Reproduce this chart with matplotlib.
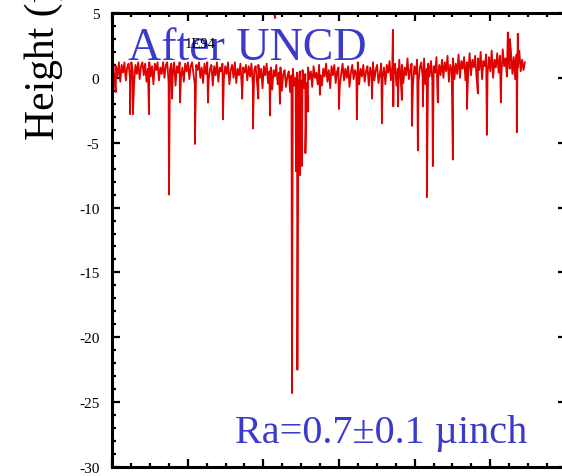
import numpy as np
import matplotlib
matplotlib.use("Agg")
import matplotlib.pyplot as plt
from matplotlib.ticker import MultipleLocator, NullFormatter

# ---- data ----
# baseline profile samples, evenly spaced over scan length 0 .. 5.456
base_values = [
    0.2, 1.1, -0.5, 0.9, 0.1, 1.2, -0.3, 1.0, 0.4, 1.2, -0.2, 0.8, 1.1, 0.0, 1.2, 0.5, -0.4, 1.0, 0.3, 1.2,
    -0.1, 0.9, 1.2, 0.2, 1.1, -0.3, 0.7, 1.2, 0.1, 0.9, -0.5, 1.1, 0.6, 1.2, -0.2, 0.8, 0.3, 1.2, 0.0, 1.0,
    1.2, -0.4, 0.7, 1.1, 0.2, 1.2, -0.6, 0.9, 0.4, 1.2, 0.1, 0.8, -0.3, 1.1, 0.5, 1.2, -0.1, 0.9, 1.2, 0.3,
    -0.5, 1.0, 0.6, 1.2, 0.0, 0.8, -0.4, 1.1, 0.3, 1.2, -0.2, 0.7, 1.0, -0.6, 0.9, 0.2, 1.2, -0.3, 0.8, 0.5,
    1.1, -0.1, 0.9, 0.3, 1.2, -0.5, 0.6, 1.0, 0.0, 1.2, -0.4, 0.7, 0.2, 1.1, -0.7, 0.8, 0.4, 1.0, -0.2, 0.9,
    0.1, 1.1, -0.6, 0.6, 0.9, -0.3, 1.0, 0.0, 0.7, -0.8, 0.9, 0.2, 1.1, -0.4, 0.5, 0.8, -0.9, 0.6, 0.1, 1.0,
    -0.5, 0.4, 0.8, -1.0, 0.3, 0.6, -0.7, 0.1, 0.5, -1.1, 0.2, 0.7, -0.6, 0.0, 0.4, -0.9, 0.5, -0.2, 0.6, -0.8,
    0.3, -0.4, 0.8, -0.1, 0.5, -0.7, 0.9, 0.0, 0.4, -0.5, 1.0, 0.2, -0.6, 0.7, 0.1, 1.1, -0.3, 0.6, -0.8, 0.9,
    0.2, 1.0, -0.4, 0.5, 0.8, -0.6, 0.3, 1.1, -0.2, 0.7, 0.0, 0.9, -0.7, 0.4, 1.0, -0.1, 0.6, 0.2, 1.2, -0.5,
    0.7, 0.1, 1.0, -0.3, 0.5, 0.9, -0.6, 0.8, 0.2, 1.2, -0.2, 0.6, 1.0, -0.4, 0.3, 1.1, 0.0, 0.8, -0.5, 1.0,
    0.4, 1.3, -0.2, 0.9, 0.3, 1.1, -0.6, 0.7, 1.4, 0.0, 1.0, -0.4, 0.8, 0.2, 1.5, -0.1, 0.6, 1.1, -0.5, 0.9,
    0.3, 1.4, -0.3, 0.8, 1.2, 0.0, 1.5, -0.5, 0.7, 1.1, 0.1, 1.3, -0.2, 0.9, 0.4, 1.6, -0.4, 1.0, 0.2, 1.4,
    0.0, 1.2, 0.5, 1.7, -0.3, 1.0, 0.6, 1.5, -0.1, 1.1, 0.3, 1.8, 0.0, 1.3, 0.7, 1.6, -0.2, 1.2, 0.4, 1.9,
    0.2, 1.4, 0.8, 1.7, 0.1, 1.5, 0.6, 2.0, -0.1, 1.3, 0.9, 1.8, 0.3, 1.6, 0.5, 2.1, 0.0, 1.4, 0.8, 1.9,
    0.4, 1.7, 0.2, 2.2, 0.9, 1.5, 0.1, 1.9, 0.7, 2.0, 0.3, 1.6, -0.1, 1.8, 0.8, 2.1, 0.5, 1.4, 0.6, 1.2,
]
scan_start = 0.0
scan_end = 5.456

# isolated spikes (position, height)
spike_x = [0.05, 0.238, 0.277, 0.489, 0.793, 0.753, 0.898, 1.096, 1.268, 1.466, 1.72, 1.863,
           1.934, 2.087, 2.219, 2.378, 2.431, 2.450, 2.483, 2.510, 2.556, 2.589,
           2.747, 2.999, 3.236, 3.435, 3.567, 3.712, 3.718, 3.778, 3.831, 3.963, 4.042,
           4.108, 4.161, 4.240, 4.306, 4.505, 4.690, 4.835, 4.954, 5.139, 5.231, 5.258,
           5.350, 5.363]
spike_y = [-1.1, -2.8, -2.8, -2.8, -1.6, -9.0, -1.9, -5.1, -1.9, -3.2, -1.6, -3.9,
           -1.6, -2.9, -2.0, -24.3, -7.2, -22.5, -7.5, -6.8, -5.8, -2.6,
           -1.3, -2.4, -3.2, -1.6, -3.5, 3.7, -2.2, -2.2, -1.7, -3.7, -5.6,
           -2.2, -9.2, -6.8, -1.9, -6.3, -2.4, -1.2, -4.4, -1.9, 3.5, 3.0,
           -4.2, 3.4]

# stray isolated reading near the top of the frame
stray_x = [2.150, 2.156]
stray_y = [4.85, 4.65]

y_ticks = [5, 0, -5, -10, -15, -20, -25, -30]

# ---- build series ----
bx = np.linspace(scan_start, scan_end, len(base_values))
x = np.concatenate([bx, np.array(spike_x)])
y = np.concatenate([np.array(base_values), np.array(spike_y)])
order = np.argsort(x, kind="stable")
x, y = x[order], y[order]

W, H = 562, 477
fig = plt.figure(figsize=(W / 100, H / 100), dpi=100)
plt.rcParams['font.family'] = ['Liberation Serif', 'DejaVu Serif']

left, right, top, bottom = 112, 566, 14, 468
ax = fig.add_axes([left / W, 1 - bottom / H, (right - left) / W, (bottom - top) / H])

ax.plot(x, y, color='#e00000', lw=1.3, zorder=2)
ax.plot(stray_x, stray_y, color='#e00000', lw=1.6, zorder=2)

ax.set_xlim(0, 6)
ax.set_ylim(-30, 5)
ax.xaxis.set_major_locator(MultipleLocator(1))
ax.xaxis.set_minor_locator(MultipleLocator(0.25))
ax.xaxis.set_major_formatter(NullFormatter())
ax.set_yticks(y_ticks)
ax.set_yticklabels([str(v) for v in y_ticks])
ax.yaxis.set_minor_locator(MultipleLocator(1))

for s in ax.spines.values():
    s.set_linewidth(2.2)
ax.tick_params(which='both', direction='in', top=True, right=True,
               width=1.6, labelsize=11, pad=9)
ax.tick_params(which='major', length=6)
ax.tick_params(which='minor', length=3)

fig.text(44 / W, 1 - 140 / H, "Height (µm)", rotation=90, rotation_mode='anchor',
         ha='left', va='center', fontsize=30)

fig.text(128 / W, 1 - 60 / H, "After UNCD", color='#3a3acc', fontsize=33,
         ha='left', va='baseline', zorder=5)
fig.text(185 / W, 1 - 48 / H, "1E94", color='black', fontsize=10.5,
         ha='left', va='baseline', zorder=6)
fig.text(527 / W, 1 - 443 / H, "Ra=0.7±0.1 µinch", color='#3a3acc', fontsize=29,
         ha='right', va='baseline', zorder=5)

fig.savefig("out.png", dpi=100)
